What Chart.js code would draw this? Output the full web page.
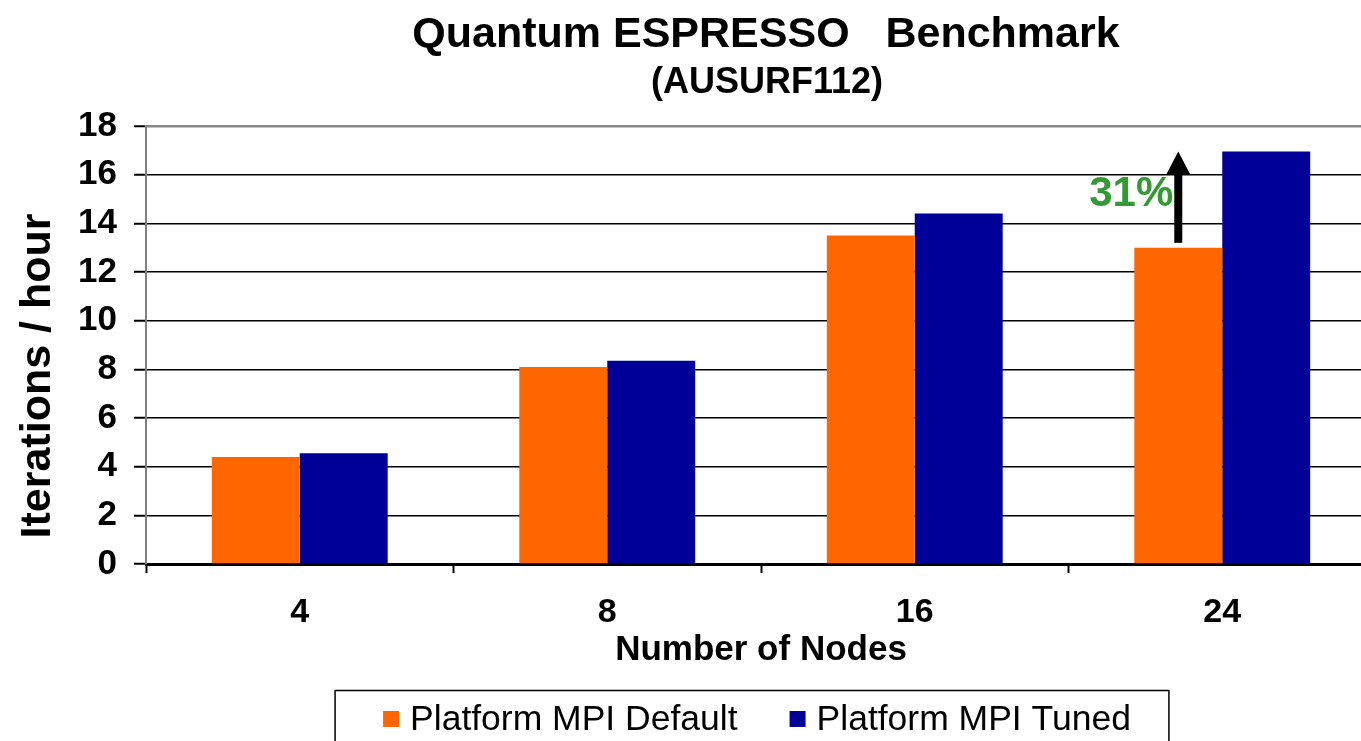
<!DOCTYPE html>
<html>
<head>
<meta charset="utf-8">
<title>Quantum ESPRESSO Benchmark</title>
<script src="https://cdn.jsdelivr.net/npm/chart.js@4.4.0/dist/chart.umd.min.js"></script>
<style>
    html, body { margin: 0; padding: 0; background: #fff; overflow: hidden; }
    #wrap { position: relative; width: 1376px; height: 741px; }
</style>
</head>
<body>
<div id="wrap"><canvas id="qe-chart"></canvas></div>
<script>
// ===== Data =====
const nodeCounts = ['4', '8', '16', '24'];
const defaultIters = [4.4, 8.1, 13.5, 13.0];
const tunedIters = [4.55, 8.35, 14.4, 16.95];
const yTicks = [0, 2, 4, 6, 8, 10, 12, 14, 16, 18];
const seriesNames = ['Platform MPI Default', 'Platform MPI Tuned'];
const seriesColors = ['#ff6600', '#000099'];
const gainLabel = '31%';
const gainIndex = 3;

const titleText = 'Quantum ESPRESSO   Benchmark';
const subtitleText = '(AUSURF112)';
const yTitleText = 'Iterations / hour';

const FONT = '"Liberation Sans", Arial, Helvetica, sans-serif';

// ===== Overlay: titles, y title, gain arrow, boxed legend =====
const overlay = {
    id: 'overlay',
    afterDraw(chart) {
        const ctx = chart.ctx;
        const area = chart.chartArea;
        const y = chart.scales.y;
        const midX = (area.left + area.right) / 2;

        ctx.save();
        ctx.fillStyle = '#000';
        ctx.textAlign = 'center';
        ctx.textBaseline = 'alphabetic';
        ctx.font = 'bold 43px ' + FONT;
        ctx.fillText(titleText, midX + 5, 47);
        ctx.font = 'bold 36px ' + FONT;
        ctx.fillText(subtitleText, midX + 6, 93);

        // y axis title
        ctx.save();
        ctx.translate(50, (area.top + area.bottom) / 2 + 31);
        ctx.rotate(-Math.PI / 2);
        ctx.font = 'bold 43px ' + FONT;
        ctx.fillText(yTitleText, 0, 0);
        ctx.restore();

        // gain arrow over the default bar of the last group
        const bar = chart.getDatasetMeta(0).data[gainIndex];
        const ax = bar.x;
        const yFrom = y.getPixelForValue(defaultIters[gainIndex] + 0.2);
        const yTo = y.getPixelForValue(tunedIters[gainIndex]);
        const headH = 23, headW = 24;
        ctx.fillStyle = '#000';
        ctx.fillRect(ax - 4, yTo + headH - 1, 8, yFrom - yTo - headH + 1);
        ctx.beginPath();
        ctx.moveTo(ax, yTo);
        ctx.lineTo(ax + headW / 2, yTo + headH);
        ctx.lineTo(ax - headW / 2, yTo + headH);
        ctx.closePath();
        ctx.fill();

        ctx.fillStyle = '#339933';
        ctx.font = 'bold 42px ' + FONT;
        ctx.textAlign = 'right';
        ctx.textBaseline = 'middle';
        ctx.fillText(gainLabel, ax - 5, (yFrom + yTo) / 2 - 3);

        // legend
        ctx.font = '35.5px ' + FONT;
        ctx.textAlign = 'left';
        ctx.textBaseline = 'alphabetic';
        const box = 16, gap = 11, spacing = 52;
        const widths = seriesNames.map(n => ctx.measureText(n).width);
        const total = widths.reduce((s, w) => s + box + gap + w, 0) + spacing * (seriesNames.length - 1);
        let x = midX - 4 - total / 2;
        const startX = x;
        seriesNames.forEach((name, i) => {
            ctx.fillStyle = seriesColors[i];
            ctx.fillRect(x, 711, box, box);
            ctx.fillStyle = '#000';
            ctx.fillText(name, x + box + gap, 730);
            x += box + gap + widths[i] + spacing;
        });
        const endX = x - spacing;
        ctx.strokeStyle = '#000';
        ctx.lineWidth = 1.5;
        ctx.strokeRect(startX - 48, 690.5, (endX + 38) - (startX - 48), 80);
        ctx.restore();
    }
};

new Chart(document.getElementById('qe-chart'), {
    type: 'bar',
    data: {
        labels: nodeCounts,
        datasets: [
            { label: seriesNames[0], data: defaultIters, backgroundColor: seriesColors[0] },
            { label: seriesNames[1], data: tunedIters, backgroundColor: seriesColors[1] }
        ]
    },
    options: {
        responsive: true,
        maintainAspectRatio: false,
        animation: false,
        events: [],
        categoryPercentage: 0.572,
        barPercentage: 1.0,
        layout: { padding: { top: 126, bottom: 73, left: 0, right: 0 } },
        plugins: {
            legend: { display: false },
            title: { display: false },
            tooltip: { enabled: false }
        },
        scales: {
            x: {
                afterFit: s => { s.height = 104; },
                grid: {
                    drawOnChartArea: false,
                    drawTicks: true,
                    tickLength: 9,
                    tickWidth: 2,
                    tickColor: '#000'
                },
                border: { color: '#000', width: 3 },
                ticks: {
                    color: '#000',
                    padding: 19,
                    font: { family: FONT, size: 34, weight: 'bold' }
                },
                title: {
                    display: true,
                    text: 'Number of Nodes',
                    color: '#000',
                    padding: 0,
                    font: { family: FONT, size: 35, weight: 'bold', lineHeight: 1 }
                }
            },
            y: {
                min: 0,
                max: 18,
                afterFit: s => { s.width = 146; },
                afterBuildTicks: s => { s.ticks = yTicks.map(v => ({ value: v })); },
                grid: {
                    color: c => c.tick.value === 18 ? '#888' : '#000',
                    lineWidth: c => c.tick.value === 18 ? 2.5 : 1.5,
                    tickColor: '#000',
                    tickLength: 12,
                    tickWidth: 2
                },
                border: { color: '#808080', width: 2 },
                ticks: {
                    color: '#000',
                    padding: 17,
                    font: { family: FONT, size: 35, weight: 'bold' }
                }
            }
        }
    },
    plugins: [overlay]
});
</script>
</body>
</html>
